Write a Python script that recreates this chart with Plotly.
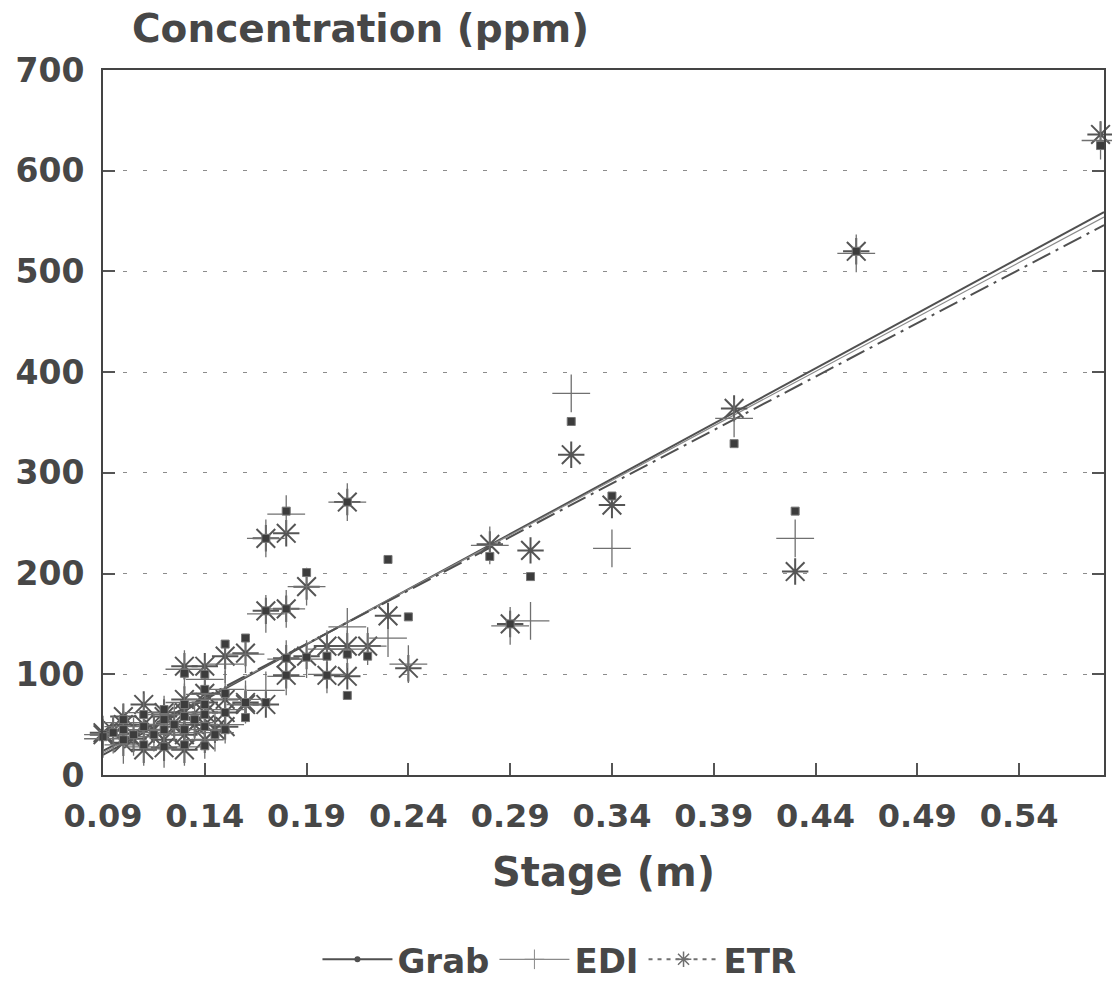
import plotly.graph_objects as go

# ---- data ----
stage = [0.09, 0.09, 0.095, 0.10, 0.10, 0.10, 0.105, 0.11, 0.11, 0.11, 0.115,
         0.12, 0.12, 0.12, 0.12, 0.125, 0.13, 0.13, 0.13, 0.13, 0.13, 0.135,
         0.14, 0.14, 0.14, 0.14, 0.14, 0.14, 0.145, 0.15, 0.15, 0.15, 0.15,
         0.16, 0.16, 0.16, 0.17, 0.17, 0.17, 0.18, 0.18, 0.18, 0.18, 0.19,
         0.19, 0.20, 0.20, 0.21, 0.21, 0.21, 0.22, 0.23, 0.24, 0.28, 0.29,
         0.30, 0.32, 0.34, 0.40, 0.43, 0.46, 0.58]
grab = [40, 38, 42, 45, 35, 55, 40, 60, 48, 30, 40,
        55, 45, 28, 65, 50, 101, 70, 58, 45, 30, 55,
        100, 85, 60, 29, 48, 70, 40, 130, 81, 62, 45,
        136, 57, 72, 235, 163, 72, 262, 165, 116, 99, 201,
        117, 118, 99, 271, 79, 120, 118, 214, 157, 217, 150,
        197, 351, 277, 329, 262, 520, 625]
edi = [40, 36, 40, 48, 30, 52, 38, 62, 45, 28, 42,
       50, 40, 26, 60, 52, 105, 72, 60, 42, 28, 52,
       95, 80, 62, 35, 45, 75, 42, 110, 85, 65, 50,
       120, 70, 75, 235, 160, 84, 259, 165, 115, 98, 187,
       115, 125, 100, 271, 147, 125, 128, 136, 110, 228, 148,
       153, 379, 225, 354, 235, 518, 630]
etr = [42, 40, 44, 50, 32, 58, 36, 70, 50, 25, 45,
       58, 35, 27, 62, 48, 108, 75, 62, 40, 25, 50,
       108, 81, 62, 35, 50, 72, 45, 118, 75, 62, 48,
       121, 70, 72, 235, 163, 70, 240, 165, 116, 99, 187,
       118, 128, 99, 271, 98, 128, 128, 158, 106, 229, 150,
       223, 318, 268, 364, 202, 520, 636]

# regression lines (end points)
fit_x = [0.09, 0.5817]
grab_fit = [20, 559]
edi_fit = [22, 554]
etr_fit = [24, 546]

x_ticks = [0.09, 0.14, 0.19, 0.24, 0.29, 0.34, 0.39, 0.44, 0.49, 0.54]
x_tick_labels = ["0.09", "0.14", "0.19", "0.24", "0.29", "0.34", "0.39", "0.44", "0.49", "0.54"]
y_ticks = [0, 100, 200, 300, 400, 500, 600, 700]

FONT = "DejaVu Sans"
ink = "#474747"

fig = go.Figure()

# fitted lines
fig.add_trace(go.Scatter(x=fit_x, y=grab_fit, mode="lines", showlegend=False,
                         line=dict(color="#505050", width=2)))
fig.add_trace(go.Scatter(x=fit_x, y=edi_fit, mode="lines", showlegend=False,
                         line=dict(color="#8a8a8a", width=1.2)))
fig.add_trace(go.Scatter(x=fit_x, y=etr_fit, mode="lines", showlegend=False,
                         line=dict(color="#505050", width=2, dash="20px,6px,3px,6px")))

# scatter points
fig.add_trace(go.Scatter(x=stage, y=etr, mode="markers", showlegend=False, cliponaxis=False,
                         marker=dict(symbol="asterisk-open", size=22, color="#555555",
                                     line=dict(width=2, color="#555555"))))
fig.add_trace(go.Scatter(x=stage, y=edi, mode="markers", showlegend=False, cliponaxis=False,
                         marker=dict(symbol="cross-thin-open", size=27, color="#707070",
                                     line=dict(width=1.3, color="#707070"))))
fig.add_trace(go.Scatter(x=stage, y=grab, mode="markers", showlegend=False, cliponaxis=False,
                         marker=dict(symbol="square", size=8, color="#3c3c3c",
                                     line=dict(width=1, color="#777777"))))

# legend entries
fig.add_trace(go.Scatter(x=[None], y=[None], mode="lines+markers", name="Grab",
                         line=dict(color="#505050", width=2),
                         marker=dict(symbol="circle", size=6, color="#505050")))
fig.add_trace(go.Scatter(x=[None], y=[None], mode="lines+markers", name="EDI",
                         line=dict(color="#8a8a8a", width=1.2),
                         marker=dict(symbol="cross-thin-open", size=14,
                                     line=dict(width=1, color="#707070"))))
fig.add_trace(go.Scatter(x=[None], y=[None], mode="lines+markers", name="ETR",
                         line=dict(color="#707070", width=2, dash="4px,5px"),
                         marker=dict(symbol="asterisk-open", size=13,
                                     line=dict(width=1.5, color="#555555"))))

fig.update_layout(
    width=1112, height=995,
    margin=dict(l=103, r=6, t=70, b=212),
    paper_bgcolor="white", plot_bgcolor="white",
    font=dict(family=FONT, color=ink),
    showlegend=True,
    legend=dict(orientation="h", x=0.456, xanchor="center", y=-0.262, yanchor="middle",
                font=dict(family=FONT, size=34, weight="bold", color=ink),
                itemwidth=70, bgcolor="rgba(0,0,0,0)"),
    annotations=[dict(text="Concentration (ppm)", xref="paper", yref="paper",
                      x=0.027, xanchor="left", y=1.059, yanchor="middle", showarrow=False,
                      font=dict(family=FONT, size=39, weight="bold", color=ink))],
)

fig.update_xaxes(
    range=[0.09, 0.5817], tickmode="array", tickvals=x_ticks, ticktext=x_tick_labels,
    ticks="inside", ticklen=12, tickwidth=1.5, tickcolor="#555555",
    showline=True, linecolor="#444444", linewidth=2, mirror=True,
    showgrid=False, zeroline=False, ticklabelstandoff=12,
    tickfont=dict(family=FONT, size=32, weight="bold", color=ink),
    title=dict(text="Stage (m)", standoff=24,
               font=dict(family=FONT, size=40, weight="bold", color=ink)),
)
fig.update_yaxes(
    range=[0, 700], tickmode="array", tickvals=y_ticks,
    ticks="inside", ticklen=12, tickwidth=1.5, tickcolor="#555555",
    showline=True, linecolor="#444444", linewidth=2, mirror="ticks",
    showgrid=True, gridcolor="#8c8c8c", gridwidth=1, griddash="4px,16px",
    zeroline=False, ticklabelstandoff=10,
    tickfont=dict(family=FONT, size=33, weight="bold", color=ink),
)

fig.write_html("out.html")
